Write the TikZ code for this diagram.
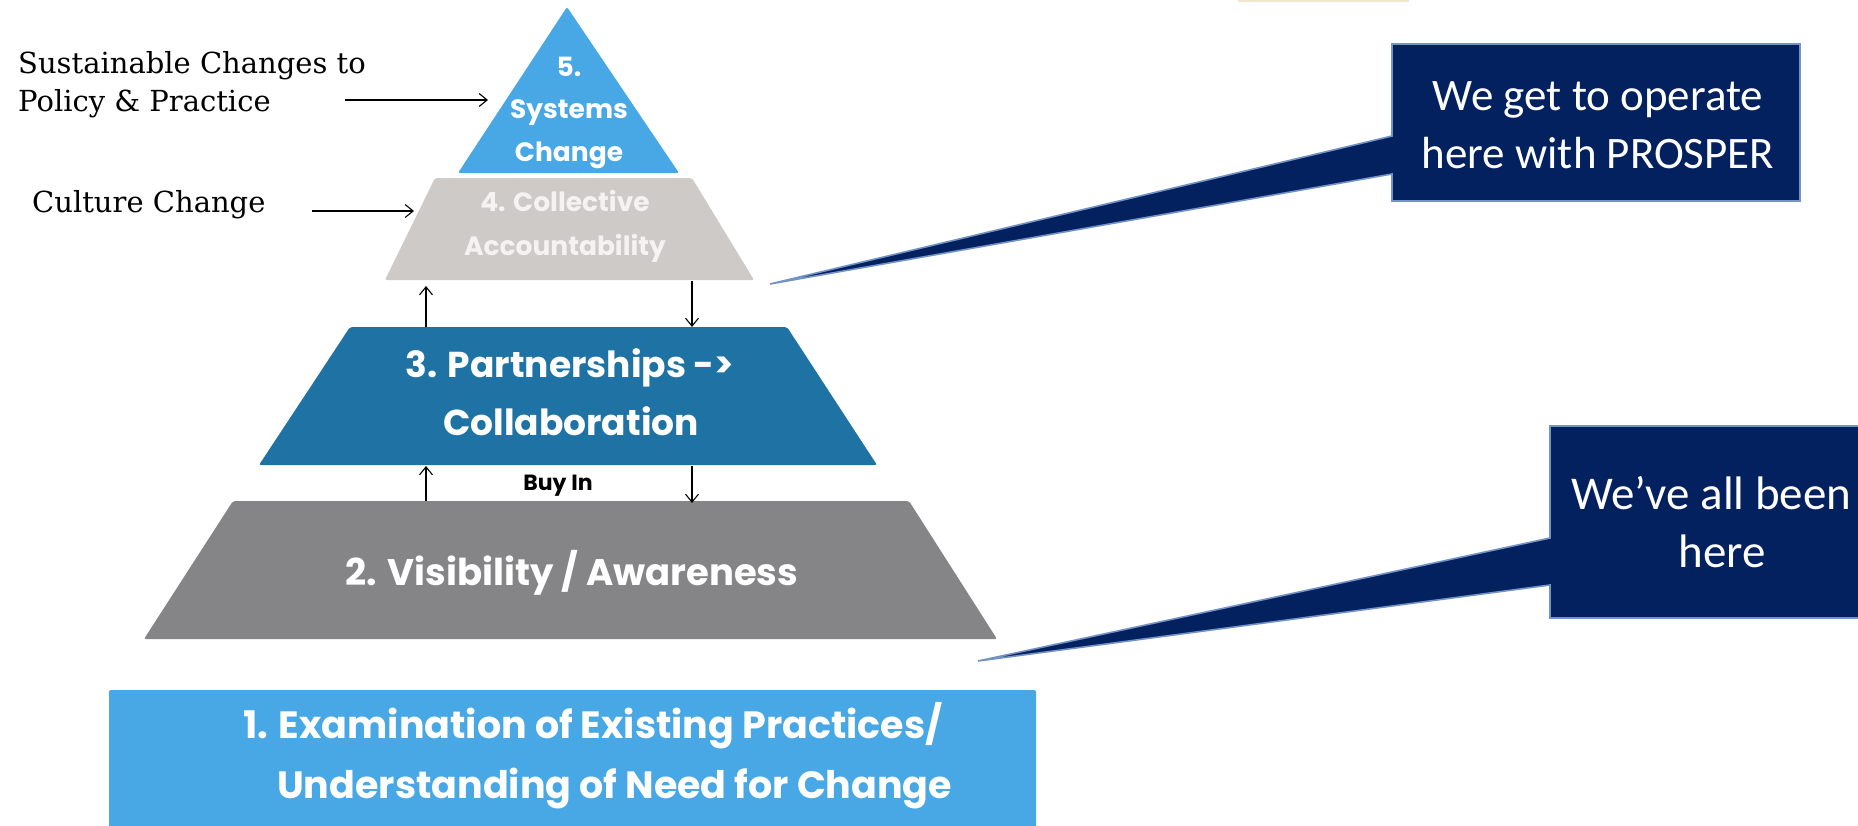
\documentclass[tikz,border=0pt]{standalone}
\usepackage{fontspec}
\setmainfont{DejaVu Serif}
\newfontfamily\popfont{Poppins}
\newfontfamily\calfont{Carlito}
\usetikzlibrary{arrows.meta}

\definecolor{skyblue}{HTML}{47A8E5}
\definecolor{paleGrey}{HTML}{CDCAC8}
\definecolor{paleText}{HTML}{F4F3F2}
\definecolor{seaBlue}{HTML}{1F72A4}
\definecolor{midGrey}{HTML}{858487}
\definecolor{navy}{HTML}{03205F}
\definecolor{rimBlue}{HTML}{7393C6}
\definecolor{sand}{HTML}{F0E6CF}

\begin{document}
\begin{tikzpicture}[x=1pt,y=-1pt,
  layer/.style={rounded corners=2pt},
  small/.style={font=\popfont\bfseries\fontsize{26.5}{30}\selectfont, text=white, anchor=base, inner sep=0pt},
  big/.style={font=\popfont\bfseries\fontsize{36}{40}\selectfont, text=white, anchor=base, inner sep=0pt},
  note/.style={font=\fontsize{29}{33}\selectfont, anchor=base west, inner sep=0pt},
  calltext/.style={font=\calfont\fontsize{45}{50}\selectfont, text=white, anchor=base, inner sep=0pt},
  link/.style={-{Straight Barb[length=8pt,width=13pt]}, line width=1.1pt},
  callout/.style={fill=navy, draw=rimBlue, line width=1.6pt, line join=miter}
]
\clip (0,0) rectangle (1858,825);
\fill[white] (0,0) rectangle (1858,825);
\fill[sand] (1238,0) rectangle (1409,1.6);

% pyramid layers
\fill[skyblue,layer] (567,7) -- (679,173) -- (458,173) -- cycle;
\fill[paleGrey,layer] (435,178) -- (692,178) -- (754,280) -- (385,280) -- cycle;
\fill[seaBlue,layer] (350,327) -- (787,327) -- (877,465) -- (259,465) -- cycle;
\fill[midGrey,layer] (233,501) -- (909,501) -- (997,639) -- (144,639) -- cycle;
\fill[skyblue,rounded corners=2pt] (109,690) rectangle (1036,840);

% layer captions
\node[small] (t5a) at (569,76) {5.};
\node[small] (t5b) at (569,118) {Systems};
\node[small] (t5c) at (569,161) {Change};
\node[small,text=paleText] (t4a) at (565,211) {4. Collective};
\node[small,text=paleText] (t4b) at (565,255) {Accountability};
\node[big] (t3a) at (570,377) {3. Partnerships ->};
\node[big] (t3b) at (571,435) {Collaboration};
\node[big,font=\popfont\bfseries\fontsize{37}{41}\selectfont] (t2) at (572,585) {2. Visibility / Awareness};
\node[font=\popfont\bfseries\fontsize{22}{26}\selectfont, anchor=base, inner sep=0pt] (buy) at (558,490) {Buy In};
\node[big,font=\popfont\bfseries\fontsize{38}{42}\selectfont,anchor=base west] (t1a) at (243,738) {1. Examination of Existing Practices/};
\node[big,font=\popfont\bfseries\fontsize{38}{42}\selectfont,anchor=base west] (t1b) at (277,798) {Understanding of Need for Change};

% side notes
\node[note] (n5a) at (18,73) {Sustainable Changes to};
\node[note] (n5b) at (18,111) {Policy \& Practice};
\node[note] (n4) at (32,212) {Culture Change};

% arrow end points
\coordinate (a5s) at (345,100);
\coordinate (a5e) at (488,100);
\coordinate (a4s) at (312,211);
\coordinate (a4e) at (414,211);
\coordinate (u1s) at (426,327);
\coordinate (u1e) at (426,286);
\coordinate (d1s) at (692,281);
\coordinate (d1e) at (692,327);
\coordinate (u2s) at (426,501);
\coordinate (u2e) at (426,466);
\coordinate (d2s) at (692,466);
\coordinate (d2e) at (692,503);

\draw[link] (a5s) -- (a5e);
\draw[link] (a4s) -- (a4e);
\draw[link] (u1s) -- (u1e);
\draw[link] (d1s) -- (d1e);
\draw[link] (u2s) -- (u2e);
\draw[link] (d2s) -- (d2e);

% upper callout
\coordinate (p1) at (770,284);
\draw[callout] (1392,44) -- (1800,44) -- (1800,201) -- (1392,201) -- (1392,174) -- (p1) -- (1392,136) -- cycle;
\node[calltext] (c1a) at (1598,110) {We get to operate};
\node[calltext] (c1b) at (1598,168) {here with PROSPER};

% lower callout
\coordinate (p2) at (978,661);
\draw[callout] (1550,426) -- (1900,426) -- (1900,618) -- (1550,618) -- (1550,585) -- (p2) -- (1550,538) -- cycle;
\node[calltext,font=\calfont\fontsize{47}{52}\selectfont,anchor=base west] (c2a) at (1571,509) {We’ve all been};
\node[calltext,font=\calfont\fontsize{47}{52}\selectfont] (c2b) at (1722,567) {here};
\end{tikzpicture}
\end{document}
